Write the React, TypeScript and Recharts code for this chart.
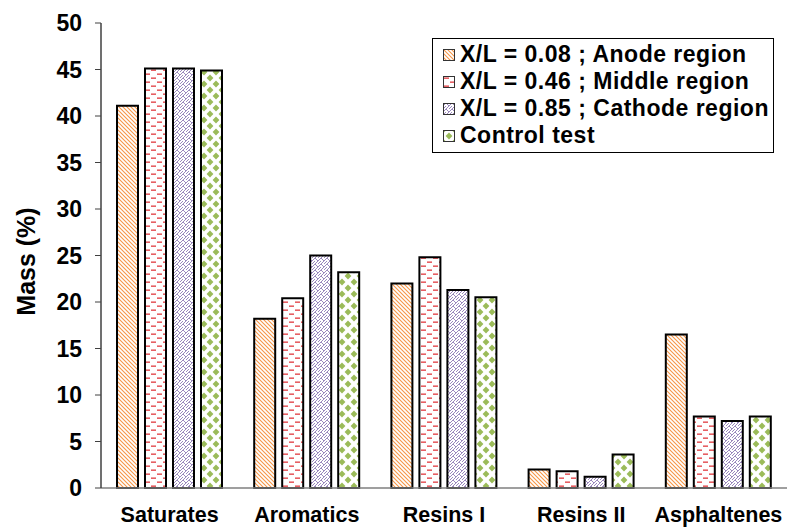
import React from "react";
import { BarChart, Bar, XAxis, YAxis, Legend, Label } from "recharts";

const categories = ["Saturates", "Aromatics", "Resins I", "Resins II", "Asphaltenes"];
const anode = [41.1, 18.2, 22.0, 2.0, 16.5];
const middle = [45.1, 20.4, 24.8, 1.8, 7.7];
const cathode = [45.1, 25.0, 21.3, 1.2, 7.2];
const control = [44.9, 23.2, 20.5, 3.6, 7.7];
const yTicks = [0, 5, 10, 15, 20, 25, 30, 35, 40, 45, 50];

const seriesNames = [
  "X/L = 0.08 ; Anode region",
  "X/L = 0.46 ; Middle region",
  "X/L = 0.85 ; Cathode region",
  "Control test",
];

const data = categories.map((name, i) => ({
  name,
  anode: anode[i],
  middle: middle[i],
  cathode: cathode[i],
  control: control[i],
}));

const FONT = "'Liberation Sans', Arial, sans-serif";

function Patterns() {
  return (
    <defs>
      <pattern id="patAnode" width="4" height="4" patternUnits="userSpaceOnUse">
        <rect width="4" height="4" fill="#fff" />
        <path d="M-1,-1 L5,5 M-1,3 L1,5 M3,-1 L5,1" stroke="#F79646" strokeWidth="1.1" />
      </pattern>
      <pattern id="patMiddle" width="12" height="8" patternUnits="userSpaceOnUse">
        <rect width="12" height="8" fill="#fff" />
        <rect x="1" y="1.5" width="5" height="1.3" fill="#E0393E" />
        <rect x="7" y="5.5" width="5" height="1.3" fill="#E0393E" />
      </pattern>
      <pattern id="patCathode" width="6" height="6" patternUnits="userSpaceOnUse">
        <rect width="6" height="6" fill="#fff" />
        <path d="M0,3 L3,0 L6,3 M0,6 L3,3 M3,6 L6,3" stroke="#8F7AB5" strokeWidth="0.9" fill="none" />
      </pattern>
      <pattern id="patControl" width="12" height="12" patternUnits="userSpaceOnUse">
        <rect width="12" height="12" fill="#fff" />
        <path d="M6,2.6 L9.4,6 L6,9.4 L2.6,6 Z" fill="#9BBB59" />
        <path d="M0,-3.4 L3.4,0 L0,3.4 L-3.4,0 Z M12,-3.4 L15.4,0 L12,3.4 L8.6,0 Z M0,8.6 L3.4,12 L0,15.4 L-3.4,12 Z M12,8.6 L15.4,12 L12,15.4 L8.6,12 Z" fill="#9BBB59" />
      </pattern>
    </defs>
  );
}

function LegendBox(props: any) {
  const payload = [...(props.payload || [])].sort(
    (a: any, b: any) => seriesNames.indexOf(a.value) - seriesNames.indexOf(b.value)
  );
  return (
    <div
      style={{
        border: "1.5px solid #000",
        background: "#fff",
        width: 330,
        padding: "2px 0 3px 10px",
        fontFamily: FONT,
        fontWeight: "bold",
        fontSize: 23,
        letterSpacing: 0.5,
        color: "#000",
        lineHeight: "27px",
      }}
    >
      {payload.map((entry: any, i: number) => (
        <div key={i} style={{ display: "flex", alignItems: "center", whiteSpace: "nowrap" }}>
          <svg width="12" height="12" style={{ marginRight: 5 }}>
            <rect x="0.5" y="0.5" width="11" height="11" fill={entry.color} stroke="#333" strokeWidth="1" />
          </svg>
          <span>{entry.value}</span>
        </div>
      ))}
    </div>
  );
}

export default function App() {
  const yTickStyle = { fill: "#000", fontSize: 23, fontWeight: "bold", fontFamily: FONT };
  const xTickStyle = { fill: "#000", fontSize: 21.5, fontWeight: "bold", fontFamily: FONT };
  return (
    <div style={{ position: "absolute", left: 0, top: 0, background: "#fff" }}>
      <BarChart
        width={791}
        height={527}
        data={data}
        margin={{ top: 23, right: 4, bottom: 0, left: 0 }}
        barSize={21}
        barGap={7}
      >
        <Patterns />
        <XAxis
          dataKey="name"
          tickLine={false}
          tickSize={0}
          tickMargin={19}
          axisLine={{ stroke: "#7f7f7f", strokeWidth: 1.5 }}
          tick={xTickStyle}
          height={39}
          interval={0}
        />
        <XAxis xAxisId="top" orientation="top" dataKey="name" height={0} tick={false} tickLine={false}
          axisLine={{ stroke: "#8a8a8a", strokeWidth: 1.5 }} />
        <YAxis
          domain={[0, 50]}
          ticks={yTicks}
          width={101}
          tickSize={6}
          tickMargin={13}
          tickLine={{ stroke: "#404040" }}
          axisLine={{ stroke: "#404040", strokeWidth: 1.5 }}
          tick={yTickStyle}
        >
          <Label
            value="Mass (%)"
            angle={-90}
            position="insideLeft"
            offset={26}
            dy={6}
            fontSize={25}
            fontWeight="bold"
            fontFamily={FONT}
            fill="#000"
            style={{ textAnchor: "middle" }}
          />
        </YAxis>
        <YAxis yAxisId="right" orientation="right" width={0} domain={[0, 50]} tick={false} tickLine={false}
          axisLine={{ stroke: "#8a8a8a", strokeWidth: 1.5 }} />
        <Legend
          layout="horizontal"
          verticalAlign="middle"
          align="center"
          content={<LegendBox />}
          wrapperStyle={{ top: 38, left: 432, width: "auto" }}
        />
        <Bar dataKey="anode" name={seriesNames[0]} fill="url(#patAnode)" stroke="#000" strokeWidth={2} isAnimationActive={false} />
        <Bar dataKey="middle" name={seriesNames[1]} fill="url(#patMiddle)" stroke="#000" strokeWidth={2} isAnimationActive={false} />
        <Bar dataKey="cathode" name={seriesNames[2]} fill="url(#patCathode)" stroke="#000" strokeWidth={2} isAnimationActive={false} />
        <Bar dataKey="control" name={seriesNames[3]} fill="url(#patControl)" stroke="#000" strokeWidth={2} isAnimationActive={false} />
      </BarChart>
    </div>
  );
}
